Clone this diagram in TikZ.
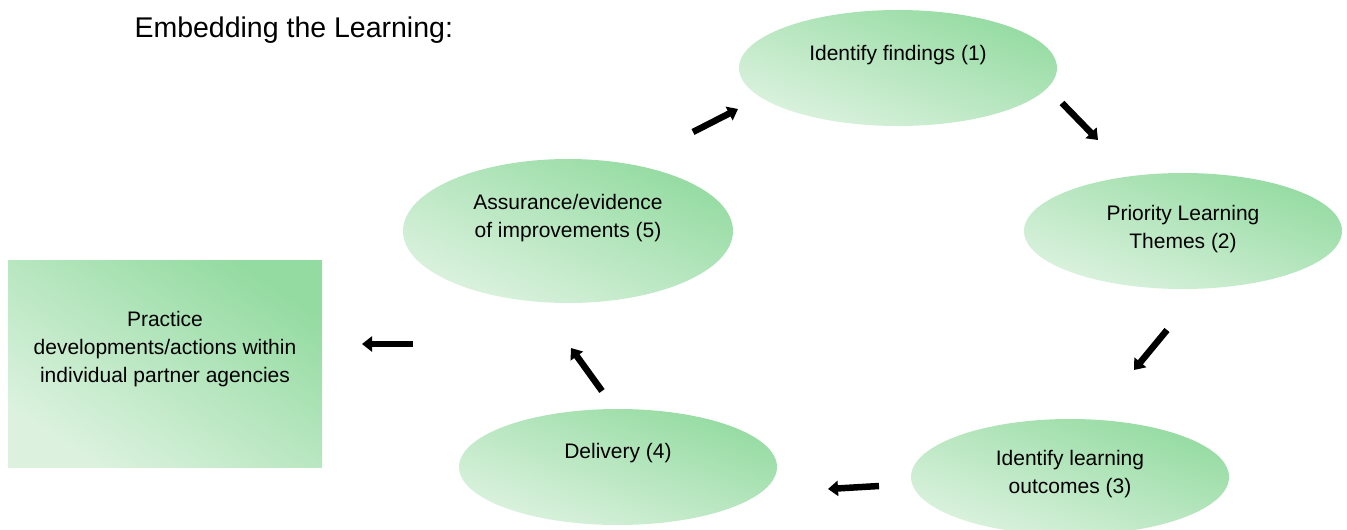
\documentclass[tikz,border=0pt]{standalone}
\usepackage{fontspec}
\setmainfont{Liberation Sans}
\usetikzlibrary{shapes.geometric,arrows.meta}
\definecolor{LeafDark}{HTML}{94DBA1}
\definecolor{LeafLight}{HTML}{DCF2DF}

\begin{document}
\begin{tikzpicture}[x=1pt,y=-1pt]
  \tikzstyle{phase}=[ellipse,inner sep=0pt,minimum width=318pt,minimum height=116pt,
    bottom color=LeafLight,top color=LeafDark,shading angle=-20]
  \tikzstyle{phasetxt}=[align=center,font=\fontsize{21}{28}\selectfont]
  \tikzstyle{agency}=[rectangle,inner sep=0pt,minimum width=314pt,minimum height=207pt,
    bottom color=LeafLight,top color=LeafDark,shading angle=-33]
  \tikzstyle{bigarrow}=[line width=6.5pt,-{Triangle[width=15pt,length=10pt]}]
  \useasboundingbox (0,0) rectangle (1347,530);

  \node[anchor=base west,font=\fontsize{28.5}{34}\selectfont] (title) at (131,37)
    {Embedding the Learning:};

  % the learning cycle
  \node[phase,label={[phasetxt,yshift=13pt]center:Identify findings (1)}] (find) at (898,68) {};
  \node[phase,label={[phasetxt,yshift=2pt]center:Priority Learning\\Themes (2)}] (themes) at (1183,231) {};
  \node[phase,label={[phasetxt,yshift=3pt]center:Identify learning\\outcomes (3)}] (outcomes) at (1070,477) {};
  \node[phase,label={[phasetxt,yshift=14pt]center:Delivery (4)}] (delivery) at (618,467) {};
  \node[phase,minimum width=330pt,minimum height=144pt,shading angle=-24,
    label={[phasetxt,yshift=13pt]center:Assurance/evidence\\of improvements (5)}] (assure) at (568,231) {};
  \node[agency,label={[phasetxt,yshift=14pt]center:Practice\\developments/actions within\\individual partner agencies}] (practice) at (165,363.5) {};

  % arrow ends
  \coordinate (as1) at (693,132);   \coordinate (ae1) at (738,109);
  \coordinate (as2) at (1062,103);  \coordinate (ae2) at (1098,140);
  \coordinate (as3) at (1167,330);  \coordinate (ae3) at (1134,370);
  \coordinate (as4) at (879,486);   \coordinate (ae4) at (828,489);
  \coordinate (as5) at (602,391);   \coordinate (ae5) at (571,348);
  \coordinate (as6) at (413,344);   \coordinate (ae6) at (362,344);

  \foreach \i in {1,...,6}
    \draw[bigarrow] (as\i) -- (ae\i);
\end{tikzpicture}
\end{document}
